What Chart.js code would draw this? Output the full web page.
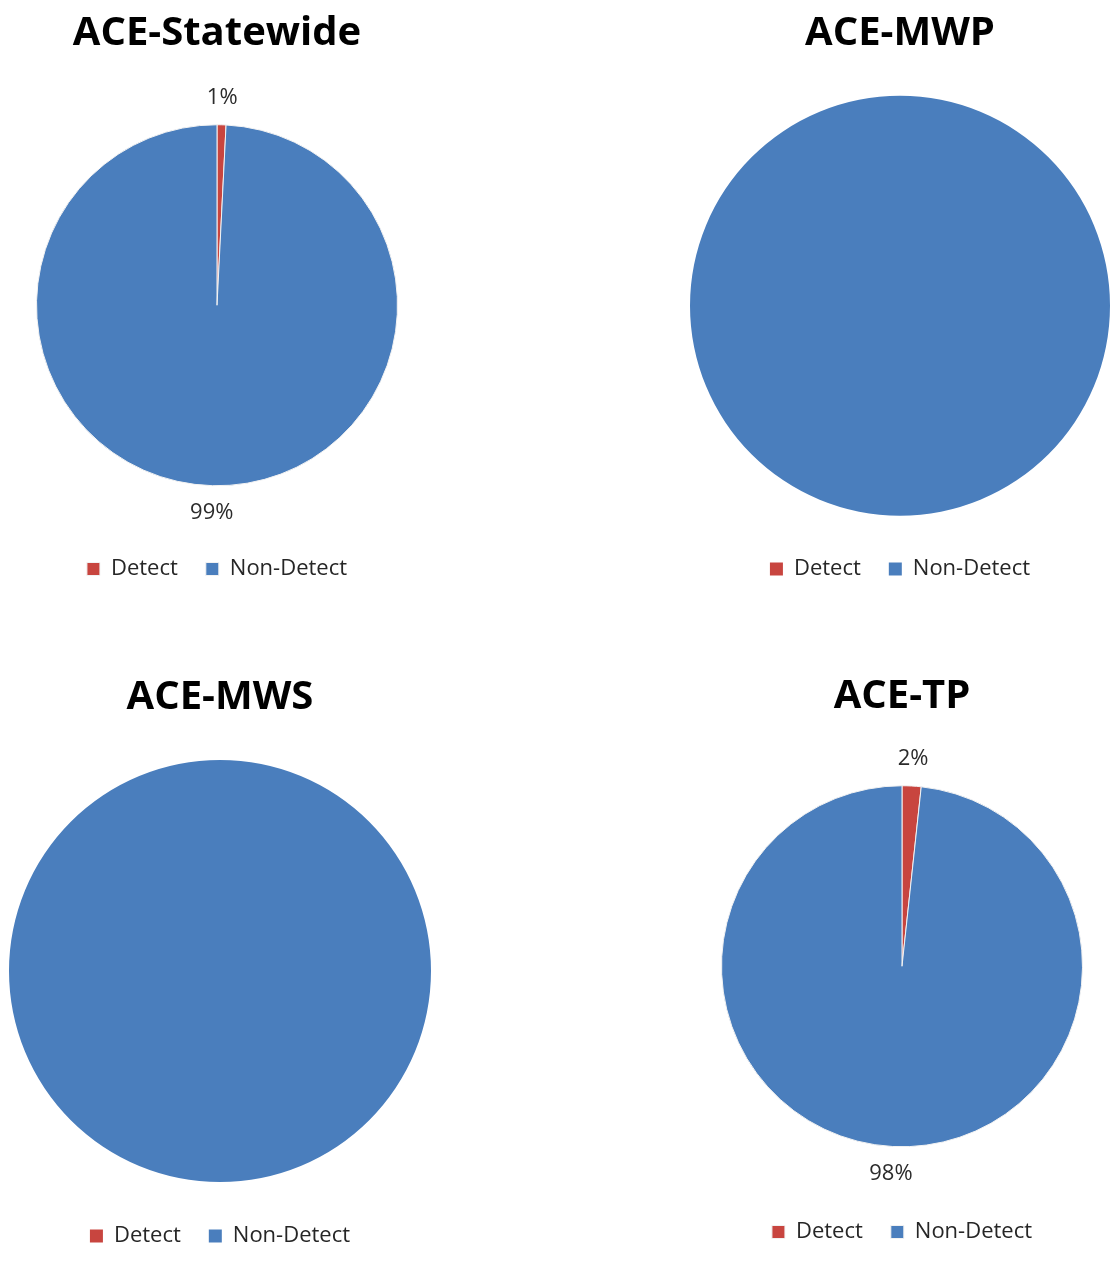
<!DOCTYPE html>
<html>
<head>
<meta charset="utf-8">
<script src="https://cdn.jsdelivr.net/npm/chart.js@4.4.1/dist/chart.umd.min.js"></script>
<style>
  html, body { margin: 0; padding: 0; background: #ffffff; }
  #wrap { position: relative; width: 1110px; height: 1263px; overflow: hidden; background: #ffffff; }
  .box { position: absolute; }
  .box canvas { display: block; }
</style>
</head>
<body>
<div id="wrap">
  <div class="box" id="b1" style="left:0px;top:0px;width:434px;height:590px;"><canvas id="c1"></canvas></div>
  <div class="box" id="b2" style="left:690px;top:0px;width:420px;height:590px;"><canvas id="c2"></canvas></div>
  <div class="box" id="b3" style="left:9px;top:664px;width:422px;height:593px;"><canvas id="c3"></canvas></div>
  <div class="box" id="b4" style="left:685px;top:663px;width:434px;height:590px;"><canvas id="c4"></canvas></div>
</div>
<script>
// ---- data ----
const categories = ['Detect', 'Non-Detect'];
const titles = ['ACE-Statewide', 'ACE-MWP', 'ACE-MWS', 'ACE-TP'];
const statewideValues = [0.8, 99.2];
const mwpValues = [0, 100];
const mwsValues = [0, 100];
const tpValues = [1.7, 98.3];
const showPercentLabels = [true, false, false, true];
const sliceColors = ['#C8453F', '#4A7EBD'];

const FONT = "'Open Sans', 'DejaVu Sans', sans-serif";

// percent labels outside the pie, placed along each slice's mid-angle
const outLabels = {
  id: 'outLabels',
  afterDatasetsDraw(chart, args, opts) {
    if (!opts || !opts.display) return;
    const ctx = chart.ctx;
    const meta = chart.getDatasetMeta(0);
    const data = chart.data.datasets[0].data;
    const total = data.reduce((a, b) => a + b, 0);
    ctx.save();
    ctx.font = opts.fontSize + 'px ' + FONT;
    ctx.fillStyle = opts.color;
    ctx.textAlign = 'center';
    ctx.textBaseline = 'middle';
    meta.data.forEach((arc, i) => {
      const v = data[i];
      if (!v) return;
      const p = arc.getProps(['x', 'y', 'startAngle', 'endAngle', 'outerRadius'], true);
      const mid = (p.startAngle + p.endAngle) / 2;
      const rr = p.outerRadius + opts.offset;
      const txt = Math.round(v / total * 100) + '%';
      ctx.fillText(txt, p.x + Math.cos(mid) * rr, p.y + Math.sin(mid) * rr);
    });
    ctx.restore();
  }
};

function makePie(id, title, values, showLabels, cfg) {
  const el = document.getElementById(id);
  return new Chart(el, {
    type: 'pie',
    data: {
      labels: categories,
      datasets: [{
        data: values,
        backgroundColor: sliceColors,
        borderColor: '#f2f2f2',
        borderWidth: cfg.border,
        hoverOffset: 0,
        offset: 0
      }]
    },
    plugins: [outLabels],
    options: {
      responsive: true,
      maintainAspectRatio: false,
      animation: false,
      events: [],
      layout: { padding: { left: cfg.side, right: cfg.side, top: 0, bottom: 0 } },
      plugins: {
        title: {
          display: true,
          text: title,
          color: '#000000',
          font: { family: FONT, size: 40, weight: 'bold', lineHeight: 1.2 },
          padding: { top: 9.5, bottom: cfg.titleBottom }
        },
        legend: {
          display: true,
          position: 'bottom',
          labels: {
            color: '#262626',
            font: { family: FONT, size: 22 },
            boxWidth: 13,
            boxHeight: 13,
            padding: 28
          }
        },
        tooltip: { enabled: false },
        outLabels: { display: showLabels, fontSize: 22, color: '#2b2b2b', offset: 27 }
      }
    }
  });
}

makePie('c1', titles[0], statewideValues, showPercentLabels[0], { side: 36, titleBottom: 23, border: 1 });
makePie('c2', titles[1], mwpValues, showPercentLabels[1], { side: 0, titleBottom: 24, border: 0 });
makePie('c3', titles[2], mwsValues, showPercentLabels[2], { side: 0, titleBottom: 23.5, border: 0 });
makePie('c4', titles[3], tpValues, showPercentLabels[3], { side: 36, titleBottom: 19, border: 1 });
</script>
</body>
</html>
